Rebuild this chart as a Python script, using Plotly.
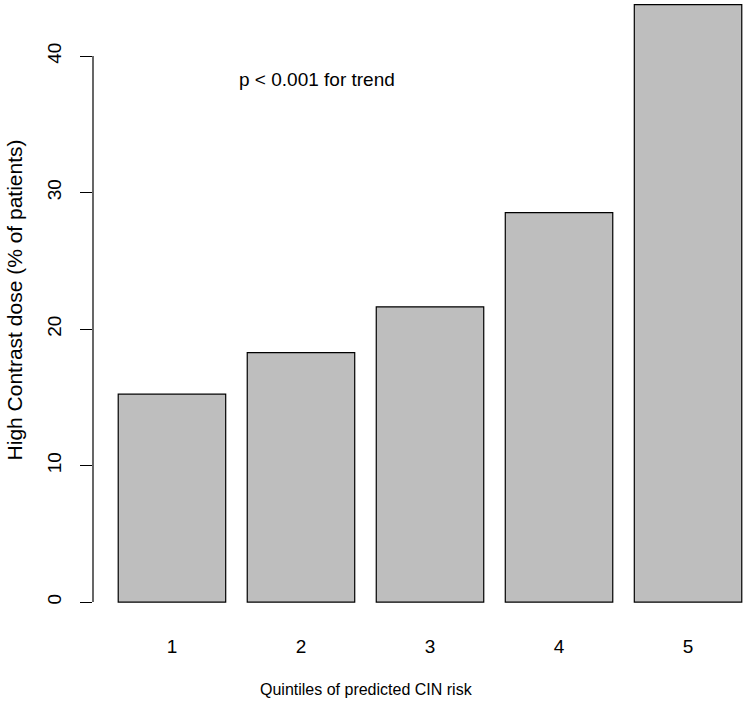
import plotly.graph_objects as go

quintiles = [1, 2, 3, 4, 5]
quintile_labels = ["1", "2", "3", "4", "5"]
high_contrast_pct = [15.23, 18.28, 21.63, 28.53, 43.77]
y_ticks = [0, 10, 20, 30, 40]
y_tick_labels = ["0", "10", "20", "30", "40"]

FONT = "Liberation Sans, Arial, Helvetica, sans-serif"

fig = go.Figure()
fig.add_trace(go.Bar(
    x=quintiles,
    y=high_contrast_pct,
    width=0.833,
    marker=dict(color="#BEBEBE", line=dict(color="#000000", width=1.2)),
    showlegend=False,
    hoverinfo="skip",
))

fig.add_annotation(
    x=2.128, y=38.25, xref="x", yref="y",
    text="p < 0.001 for trend", showarrow=False,
    font=dict(family=FONT, size=19, color="#000000"),
)

# y-axis title, centred like R's (whose plot region extends above the crop)
fig.add_annotation(
    x=0, xref="paper", xanchor="center", xshift=-79,
    y=22.1, yref="y", yanchor="middle",
    text="High Contrast dose (% of patients)", textangle=-90,
    showarrow=False,
    font=dict(family=FONT, size=21, color="#000000"),
)

# x-axis title
fig.add_annotation(
    x=2.504, xref="x", xanchor="center",
    y=0, yref="paper", yanchor="middle", yshift=-63,
    text="Quintiles of predicted CIN risk", showarrow=False,
    font=dict(family=FONT, size=16, color="#000000"),
)

# R-style y axis line spanning only the tick range
fig.add_shape(
    type="line", xref="paper", yref="y",
    x0=0, x1=0, y0=y_ticks[0], y1=y_ticks[-1],
    line=dict(color="#000000", width=1.2),
)

fig.update_layout(
    width=747, height=705,
    margin=dict(l=93, r=0, t=0, b=79),
    paper_bgcolor="white", plot_bgcolor="white",
    font=dict(family=FONT, size=16, color="#000000"),
    xaxis=dict(
        range=[0.388, 5.457],
        tickvals=quintiles, ticktext=quintile_labels,
        showgrid=False, zeroline=False, showline=False,
        ticks="", ticklabelstandoff=7,
        tickfont=dict(family=FONT, size=19),
    ),
    yaxis=dict(
        range=[-1.75, 44.11],
        tickvals=y_ticks, ticktext=y_tick_labels,
        showgrid=False, zeroline=False, showline=False,
        ticks="outside", ticklen=12, tickwidth=1.2, tickcolor="#000000",
        tickangle=-90, ticklabelstandoff=11,
        tickfont=dict(family=FONT, size=19),
    ),
)

fig.write_html(
    "out.html",
    config={"displayModeBar": False},
    post_script="document.body.style.margin='0px';document.body.style.padding='0px';",
)
